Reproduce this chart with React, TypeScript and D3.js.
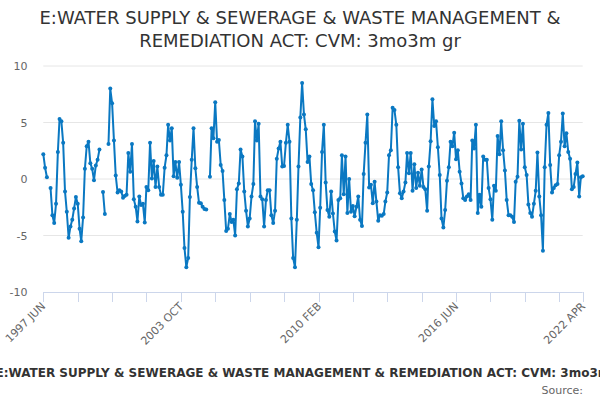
import * as d3 from 'd3';

const TITLE_LINES = ['E:WATER SUPPLY & SEWERAGE & WASTE MANAGEMENT &', 'REMEDIATION ACT: CVM: 3mo3m gr'];
const LEGEND_LABEL = 'E:WATER SUPPLY & SEWERAGE & WASTE MANAGEMENT & REMEDIATION ACT: CVM: 3mo3m gr';
const SOURCE_LABEL = 'Source:';

// monthly values, Jun 1997 .. Apr 2022 (null = missing month)
const VALUES_1997 = [
  2.2, 1.0, 0.15, null, -0.8, -3.2, -3.9, -2.2, 2.4, 5.3,
  5.1, 3.2, -1.1, -2.9, -5.2, -4.2, -3.6, -2.6, -1.6, -2.2,
  -4.4, -5.5, -3.4, 0.9, 2.9, 3.3, 1.4, 0.9, -0.1, 1.2,
  1.7, 2.6, null, -1.15, -3.1, null, 3.1, 8.0, 6.7, 3.4,
  0.3, -1.2, -1.0, -1.1, -1.65, -1.5, -1.4, 2.3, 0.65, 3.1,
  -1.8, -2.45, -3.75, -1.55, -2.3, -2.2, -3.85, -0.7, -1.0, 3.2,
];
const VALUES_2002 = [
  0.05, 1.6, -0.7, 1.1, -0.7, -1.4, -1.4, 1.0, 2.1, 4.8,
  3.4, 4.5, 0.25, 1.5, 0.1, 1.5, -0.5, -2.9, -6.1, -7.8,
  -7.0, -1.6, 1.7, 4.5, 0.95, -0.7, -2.1, -2.15, -2.45, -2.65,
  -2.7, null, 0.2, 4.5, 3.6, 6.8, 3.3, 3.45, 1.25, 0.7,
  -1.85, -4.6, -4.4, -3.1, -3.8, -3.6, -5.0, -0.9, -0.4, 2.6,
  2.0, -1.1, -2.8, -4.2, -3.5, -1.55, -0.45, 5.1, 3.4, 4.9,
];
const VALUES_2007 = [
  -1.55, -1.8, -4.2, -1.85, -1.0, -1.0, -3.2, -3.9, -2.8, 1.8,
  2.7, 3.3, 1.1, 1.15, 3.2, 4.8, 3.3, -3.5, -7.0, -7.8,
  -3.6, 1.1, 5.45, 8.5, 5.7, 4.4, 1.5, 2.0, -0.45, -1.0,
  -2.95, -4.75, -6.05, -2.55, 2.4, 4.8, -0.3, -2.75, -3.35, -1.1,
  -3.05, -4.65, -5.45, -1.85, -1.7, 2.1, -1.35, 2.0, -3.0, 0,
  -2.9, -2.4, -3.3, -2.45, -1.55, -3.6, -4.15, 0.45, 3.2, 5.7,
];
const VALUES_2012 = [
  -0.75, -0.5, -2.15, -0.25, -2.0, -3.7, -3.2, -3.25, -3.1, -2.0,
  -1.2, 2.1, 2.55, 6.3, 6.1, 4.8, 1.05, -1.25, -1.7, -1.1,
  -0.3, 2.3, 0.5, 2.3, -1.05, 1.3, -0.8, 0.55, -0.6, 0.85,
  -0.7, -0.9, -2.8, 1.1, 3.35, 7.05, 4.7, 5.1, 2.8, 0.35,
  -3.5, -4.3, -2.75, -0.15, 1.05, 3.3, 2.9, 4.1, 1.75, 2.55,
  0.65, -0.4, -1.7, -1.85, -1.55, -1.35, -1.85, 3.4, 2.7, 4.8,
];
const VALUES_2017 = [
  -3.0, -1.4, -2.45, 2.0, 1.7, 1.7, -0.8, -1.8, -3.6, -0.6,
  -1.05, 3.8, 2.2, 5.1, 2.55, 0.75, -1.85, -3.2, -3.2, -3.35,
  -3.8, -0.25, 0.2, 5.15, 2.6, 4.9, 1.05, 0.35, -2.25, -3.0,
  -3.35, -2.2, -1.05, 2.35, -1.55, -3.2, -6.35, 1.05, 4.8, 5.85,
  1.25, -1.2, -0.8, -0.55, -0.45, 2.1, 3.3, 5.8, 2.9, 4.05,
  2.4, 1.8, -0.9, -0.7, 0.45, 1.45, -1.55, 0.15, 0.25,
];

const VALUES: (number | null)[] = [...VALUES_1997, ...VALUES_2002, ...VALUES_2007, ...VALUES_2012, ...VALUES_2017];
const START = new Date(1997, 5, 1);
const MONTHS = VALUES.map((_, i) => d3.timeMonth.offset(START, i));
const Y_TICKS = [-10, -5, 0, 5, 10];
const TICK_STEP = 19; // months between axis ticks
const LABEL_EVERY = 4;

const BLUE = '#0a78c2';
const AXIS = '#ccd6eb';
const GRID = '#e6e6e6';
const FONT = '"DejaVu Sans", sans-serif';

const x = d3.scaleTime().domain([MONTHS[0], MONTHS[MONTHS.length - 1]]).range([43.3, 582.7]);
const y = d3.scaleLinear().domain([-10, 10]).range([292, 66]);

const fmtMonth = (d: Date) => d3.timeFormat('%Y %b')(d).toUpperCase();

type Pt = { date: Date; value: number | null };
const points: Pt[] = MONTHS.map((date, i) => ({ date, value: VALUES[i] }));

const line = d3.line<Pt>()
  .defined(d => d.value !== null)
  .x(d => x(d.date))
  .y(d => y(d.value as number));

const tickIdx = [...d3.range(0, MONTHS.length, TICK_STEP), MONTHS.length - 1];

export default function App() {
  return (
    <svg width={600} height={400} style={{ position: 'absolute', left: 0, top: 0, background: '#fff' }}
      fontFamily={FONT}>
      {TITLE_LINES.map((t, i) => (
        <text key={t} x={300} y={24 + i * 23} textAnchor="middle" fontSize={18} fill="#333">{t}</text>
      ))}

      {Y_TICKS.map(t => (
        <g key={t}>
          {t !== -10 && <line x1={43.3} x2={582.7} y1={y(t)} y2={y(t)} stroke={GRID} />}
          <text x={27.5} y={y(t)} dy="0.4em" textAnchor="end" fontSize={11} fill="#666">{t}</text>
        </g>
      ))}

      <line x1={43.3} x2={582.7} y1={292.5} y2={292.5} stroke={AXIS} />
      {tickIdx.map((i, k) => {
        const tx = Math.round(x(MONTHS[i])) + 0.5;
        const showLabel = k % LABEL_EVERY === 0 || i === MONTHS.length - 1;
        return (
          <g key={i}>
            <line x1={tx} x2={tx} y1={292} y2={302} stroke={AXIS} />
            {showLabel && (
              <text transform={`translate(${tx + 2.5},307) rotate(-45)`} textAnchor="end" fontSize={11} fill="#666">
                {fmtMonth(MONTHS[i])}
              </text>
            )}
          </g>
        );
      })}

      <path d={line(points) ?? ''} fill="none" stroke={BLUE} strokeWidth={2} strokeLinejoin="round" strokeLinecap="round" />
      {points.filter(p => p.value !== null).map((p, i) => (
        <circle key={i} cx={x(p.date)} cy={y(p.value as number)} r={2} fill={BLUE} />
      ))}

      <text x={-4.5} y={377} fontSize={12} fontWeight="bold" fill="#333">{LEGEND_LABEL}</text>
      <text x={583} y={394} textAnchor="end" fontSize={11} fill="#666">{SOURCE_LABEL}</text>
    </svg>
  );
}
